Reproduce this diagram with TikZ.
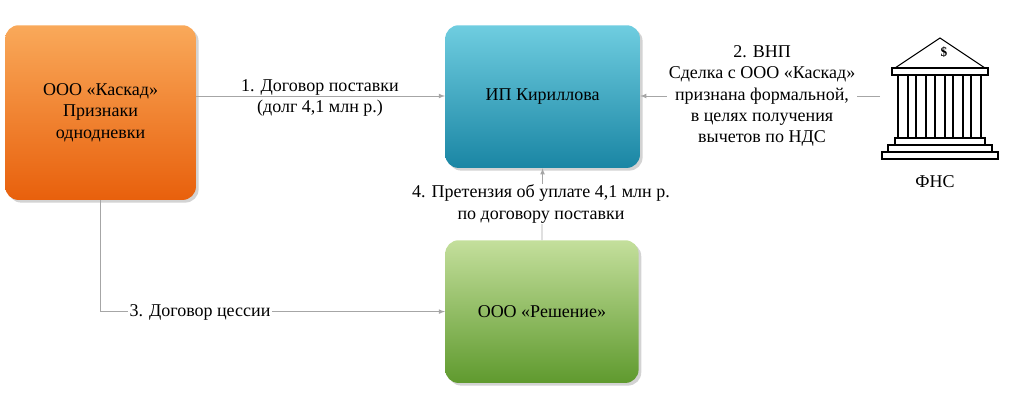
\documentclass[tikz,border=0pt]{standalone}
\usepackage{fontspec}
\setmainfont{Liberation Serif}
\usetikzlibrary{shadows}
\definecolor{ot}{HTML}{F9A95A}\definecolor{ob}{HTML}{E8600C}
\definecolor{tt}{HTML}{6FCDE0}\definecolor{tb}{HTML}{1A86A4}
\definecolor{gt}{HTML}{C4DF9C}\definecolor{gb}{HTML}{5F9A2E}
\begin{document}
\begin{tikzpicture}[x=0.75pt,y=-0.75pt,
  box/.style={rounded corners=10pt,draw=none,drop shadow={shadow xshift=2pt,shadow yshift=-2pt,opacity=0.35},align=center,font=\fontsize{13.5}{16}\selectfont},
  lbl/.style={align=center,font=\fontsize{13.5}{16}\selectfont,fill=white,inner sep=1pt},
  con/.style={draw=gray!70,line width=0.6pt,-latex}]
\useasboundingbox (0,0) rectangle (1024,400);
\node[box,minimum width=143pt,minimum height=131pt,top color=ot,bottom color=ob,anchor=north west] (k) at (5,25) {ООО «Каскад»\\Признаки\\однодневки};
\node[box,minimum width=146pt,minimum height=107pt,top color=tt,bottom color=tb,anchor=north west] (i) at (445,25) {ИП Кириллова};
\node[box,minimum width=145pt,minimum height=107pt,top color=gt,bottom color=gb,anchor=north west] (r) at (445,240) {ООО «Решение»};
% bank
\begin{scope}[draw=black,line width=0.8pt,fill=white]
\coordinate (fns) at (880,96);
\filldraw (895,68) -- (940,38) -- (985,68) -- cycle;
\filldraw (892,68) rectangle (988,75);
\foreach \c in {903,921,940,958,976}{\draw (\c-5,75) rectangle (\c+5,138);}
\filldraw (895,138) rectangle (985,145);
\filldraw (888,145) rectangle (992,152);
\filldraw (882,152) rectangle (998,159);
\node[font=\fontsize{10}{10}\selectfont\bfseries,inner sep=0] at (944,52) {\$};
\end{scope}
\node[font=\fontsize{13.5}{16}\selectfont] (fl) at (935,182) {ФНС};
\draw[con] (k.east|-0,96) -- (i.west|-0,96);
\node[lbl,fill=none] at (320,98) {1. Договор поставки\\(долг 4,1 млн р.)};
\draw[con] (fns) -- (i.east|-0,96);
\node[lbl] at (762,96) {2. ВНП\\Сделка с ООО «Каскад»\\признана формальной,\\в целях получения\\вычетов по НДС};
\draw[con] (r.north) -- (i.south);
\node[lbl] at (541,204) {4. Претензия об уплате 4,1 млн р.\\по договору поставки};
\draw[con] (k.south) |- (r.west);
\node[lbl] at (200,312) {3. Договор цессии};
\end{tikzpicture}
\end{document}
